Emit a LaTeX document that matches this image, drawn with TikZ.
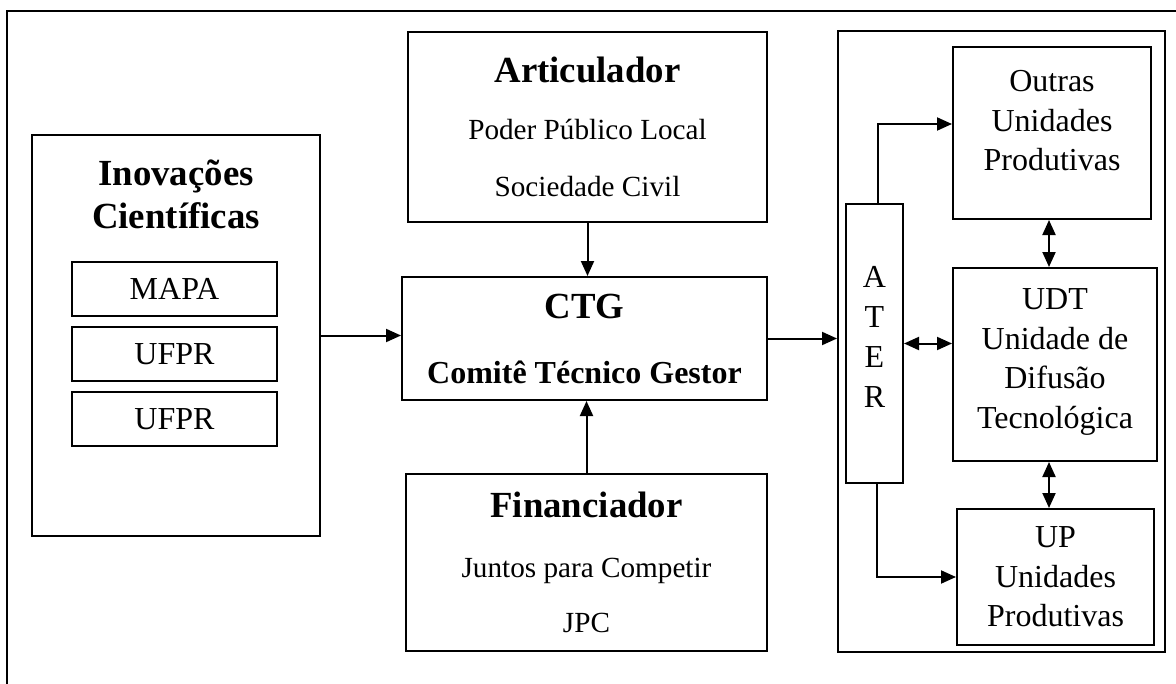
\documentclass[tikz,border=0pt]{standalone}
\usepackage{fontspec}
\setmainfont{Liberation Serif}
\usepackage{tikz}
\usetikzlibrary{arrows.meta, positioning}

\begin{document}
\begin{tikzpicture}[
    x=0.5pt, y=-0.5pt,
    node distance=4.5pt,
    box/.style={draw, rectangle, line width=1pt, align=center, inner sep=0pt, font=\fontsize{16}{19.75}\selectfont},
    sbox/.style={box, minimum width=102.5pt, minimum height=27pt},
    tbox/.style={box, font=\fontsize{14.6}{28.5}\selectfont},
    ttl/.style={font=\bfseries\fontsize{18.4}{21.5}\selectfont},
    arrow/.style={->, >={Triangle[length=7.5pt, width=6.5pt]}, line width=1pt},
    darrow/.style={arrow, <->}
]
\clip (0,0) rectangle (1176,684);
% outer frame
\draw[line width=1pt] (7,700) -- (7,11.5) -- (1190,11.5);

% left block
\node[box, minimum width=144pt, minimum height=200.5pt] (inov) at (176,335.5) {};
\node[align=center, inner sep=0pt, ttl] (inovtitle) at (176,194) {Inovações\\Científicas};
\node[sbox] (mapa) at (174.5,289) {MAPA};
\node[sbox, below=of mapa] (ufpra) {UFPR};
\node[sbox, below=of ufpra] (ufprb) {UFPR};

% centre column
\node[tbox, minimum width=179.5pt, minimum height=94.5pt] (art) at (587.5,127)
    {{\bfseries\fontsize{18.4}{21.5}\selectfont Articulador}\\[0pt] Poder Público Local\\ Sociedade Civil};
\node[box, minimum width=182.5pt, minimum height=61.5pt, font=\bfseries\fontsize{16}{32.5}\selectfont] (ctg) at (584.5,338.5)
    {{\fontsize{18.4}{21.5}\selectfont CTG}\\ Comitê Técnico Gestor};
\node[tbox, minimum width=180.5pt, minimum height=88.5pt, font=\fontsize{14.6}{27.5}\selectfont] (fin) at (586.5,562.5)
    {{\bfseries\fontsize{18.4}{21.5}\selectfont Financiador}\\[2.5pt] Juntos para Competir\\ JPC};

% right block
\node[box, minimum width=163.5pt, minimum height=310.5pt] (grp) at (1001.5,341.5) {};
\node[box, minimum width=28.5pt, minimum height=139.5pt, font=\fontsize{16}{20}\selectfont, text depth=7pt] (ater) at (874.5,343.5) {A\\T\\E\\R};
\node[box, minimum width=99pt, minimum height=86pt, text depth=12.5pt] (outras) at (1052,133) {Outras\\Unidades\\Produtivas};
\node[box, minimum width=102pt, minimum height=96.5pt, text depth=6pt] (udt) at (1055,364.5) {UDT\\Unidade de\\Difusão\\Tecnológica};
\node[box, minimum width=98.5pt, minimum height=68pt] (up) at (1055.5,577) {UP\\Unidades\\Produtivas};

% connectors
\draw[arrow] (inov.east) -- (inov.east -| ctg.west);
\draw[arrow] (art.south) -- (art.south |- ctg.north);
\draw[arrow] (fin.north) -- (fin.north |- ctg.south);
\draw[arrow] (ctg.east) -- (ctg.east -| grp.west);
\draw[arrow] ([xshift=1.75pt]ater.north) |- ([yshift=4.5pt]outras.west);
\draw[arrow] ([xshift=1.25pt]ater.south) |- (up.west);
\draw[darrow] (ater.east) -- (ater.east -| udt.west);
\draw[darrow] ([xshift=-1.5pt]outras.south) -- ([xshift=-1.5pt]outras.south |- udt.north);
\draw[darrow] ([xshift=-3pt]udt.south) -- ([xshift=-3pt]udt.south |- up.north);
\end{tikzpicture}
\end{document}
